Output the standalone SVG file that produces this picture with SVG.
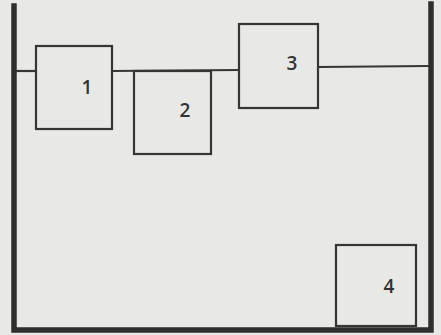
<svg xmlns="http://www.w3.org/2000/svg" width="441" height="335" viewBox="0 0 441 335">
<style>
.box{fill:none;stroke:#353535;stroke-width:2.2}
.wall{fill:none;stroke:#2e2e2e;stroke-width:5.5;stroke-linecap:square}
.line{fill:none;stroke:#353535;stroke-width:2.2}
.lbl{font-family:"Open Sans","Liberation Sans",sans-serif;font-size:19px;font-weight:600;fill:#333;text-anchor:middle}
</style>
<rect width="441" height="335" fill="#e8e8e6"/>
<g id="tank">
<path class="wall" d="M14,6 V330 H431 V4"/>
</g>
<g id="connectors">
<line class="line" x1="16" y1="71" x2="36" y2="71"/>
<line class="line" x1="112" y1="71" x2="239" y2="70"/>
<line class="line" x1="318" y1="67" x2="429" y2="66"/>
</g>
<g id="n1"><rect class="box" x="36" y="46" width="76" height="83"/><text class="lbl" x="87" y="94">1</text></g>
<g id="n2"><rect class="box" x="134" y="71" width="77" height="83"/><text class="lbl" x="185" y="117">2</text></g>
<g id="n3"><rect class="box" x="239" y="24" width="79" height="84"/><text class="lbl" x="292" y="70">3</text></g>
<g id="n4"><rect class="box" x="336" y="245" width="80" height="81"/><text class="lbl" x="389" y="293">4</text></g>
</svg>
